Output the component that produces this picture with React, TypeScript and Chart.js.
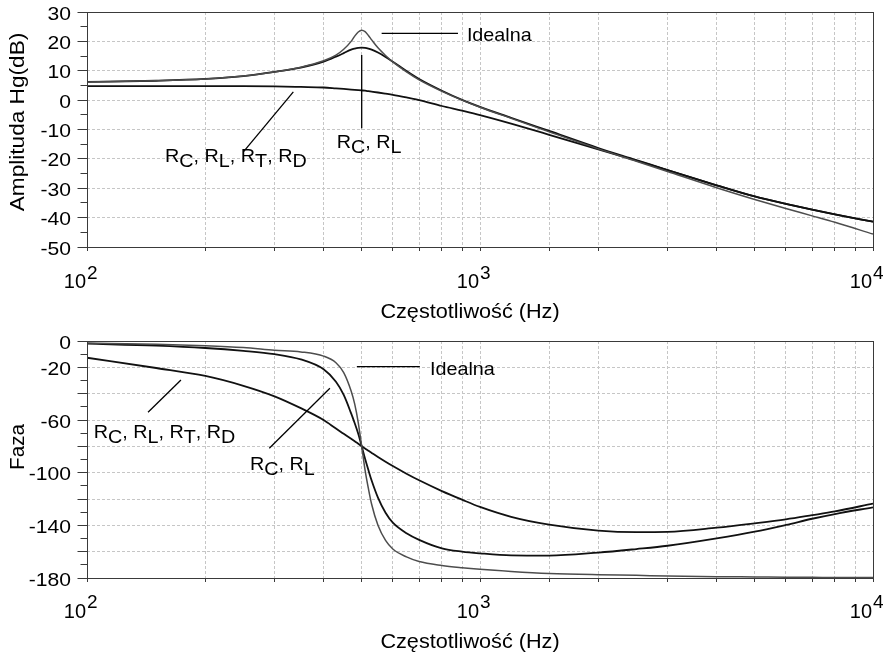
import React, { useEffect, useRef } from 'react';
import { Chart, registerables } from 'chart.js';

Chart.register(...registerables);

// ---------- data ----------
const FREQ = [100, 150, 200, 250, 300, 350, 400, 430, 450, 470, 480, 490, 500, 510, 520, 530, 550, 575, 600, 650, 700, 800, 900, 1000, 1200, 1500, 2000, 2500, 3000, 4000, 5000, 6000, 7000, 8000, 10000];

const AMP_IDEALNA = [6.2, 6.6, 7.2, 8.2, 9.6, 11.2, 13.4, 15.3, 17.3, 20.0, 21.8, 23.2, 23.8, 23.3, 22.0, 20.5, 17.8, 15.2, 13.0, 9.6, 6.9, 3.0, 0.0, -2.4, -6.2, -10.8, -16.6, -20.8, -24.3, -29.8, -33.8, -36.9, -39.4, -41.6, -45.6];
const AMP_RC_RL = [6.2, 6.6, 7.2, 8.2, 9.6, 11.1, 13.1, 14.8, 16.0, 17.2, 17.55, 17.8, 17.9, 17.8, 17.55, 17.2, 16.2, 14.7, 13.1, 9.9, 7.2, 3.2, 0.1, -2.3, -6.0, -10.5, -16.3, -20.4, -23.8, -29.0, -32.8, -35.3, -37.3, -38.9, -41.4];
const AMP_RC_RL_RT_RD = [4.8, 4.8, 4.8, 4.8, 4.7, 4.5, 4.3, 4.0, 3.8, 3.6, 3.5, 3.4, 3.3, 3.2, 3.05, 2.9, 2.6, 2.2, 1.8, 0.9, 0.0, -2.0, -3.6, -5.1, -8.0, -11.8, -16.8, -20.6, -23.8, -29.0, -32.8, -35.3, -37.3, -38.9, -41.4];

const PHASE_IDEALNA = [-1.5, -2.5, -3.6, -5.0, -7.0, -8.3, -11.5, -16.5, -24, -38, -48, -62, -80, -98, -112, -124, -140, -151.5, -158, -164, -167.5, -170.5, -172.2, -173.4, -175, -176.5, -177.5, -178, -178.5, -179, -179.2, -179.4, -179.5, -179.6, -179.7];
const PHASE_RC_RL = [-2.0, -3.5, -5.3, -7.5, -10, -14, -21.5, -31, -41, -55, -62.5, -70.5, -80, -89.5, -98, -106, -119, -130.5, -138, -146, -151, -157.5, -160, -161.3, -162.8, -163, -160.7, -158, -155.5, -149.9, -144.8, -139.7, -135, -131.4, -126.3];
const PHASE_RC_RL_RT_RD = [-12.7, -20.5, -26.5, -34, -42, -51, -60, -66.5, -70.5, -74.3, -76.2, -78, -80, -81.7, -83.4, -85, -88.1, -91.7, -95, -100.8, -105.8, -114, -120.5, -126, -133.5, -139.5, -144, -145.2, -145, -141.8, -138.5, -135.5, -132.3, -129.4, -123.5];

const SERIES_NAMES = ['Idealna', 'R_C, R_L', 'R_C, R_L, R_T, R_D'];
const X_DECADES = [2, 3, 4];
const AMP_TICK_LABELS = [30, 20, 10, 0, -10, -20, -30, -40, -50];
const PHASE_TICK_LABELS = [0, -20, -60, -100, -140, -180];
const X_TITLE = 'Częstotliwość (Hz)';
const AMP_TITLE = 'Amplituda Hg(dB)';
const PHASE_TITLE = 'Faza';

// annotation anchors in data units: [frequency, value]
const AMP_NOTES = [
  { label: SERIES_NAMES[0], from: [562, 22.7], to: [879, 22.7], at: [926, 20.2] },
  { label: SERIES_NAMES[1], from: [500, 15.4], to: [500, -9.6], at: [432, -16.4] },
  { label: SERIES_NAMES[2], from: [250, -17.6], to: [335, 2.8], at: [158, -21] },
];
const PHASE_NOTES = [
  { label: SERIES_NAMES[0], from: [486, -19.5], to: [703, -19.5], at: [746, -25.8] },
  { label: SERIES_NAMES[1], from: [291, -81.5], to: [415, -35.9], at: [260, -98] },
  { label: SERIES_NAMES[2], from: [143, -54.1], to: [173.4, -29.6], at: [104, -73.9] },
];

// ---------- styling ----------
const FONT = '"Liberation Sans", Arial, Helvetica, sans-serif';
const AXIS_COLOR = '#3a3a3a';
const GRID_COLOR = '#c6c6c6';
const SERIES_STYLE = [
  { color: '#4d4d4d', width: 1.5 },
  { color: '#111111', width: 1.8 },
  { color: '#111111', width: 1.8 },
];

type Note = { label: string; from: number[]; to: number[]; at: number[] };
type Panel = {
  height: number;
  padTop: number;
  xScaleH: number;
  yMin: number;
  yMax: number;
  gridStep: number;
  minorStep: number;
  yLabels: number[];
  yTitle: string;
  yTitleSx: number;
  yTitleOffset: number;
  xLabelBaseline: number;
  xTitleBaseline: number;
  series: number[][];
  notes: Note[];
};

function drawText(
  ctx: CanvasRenderingContext2D,
  text: string,
  x: number,
  y: number,
  size: number,
  align: CanvasTextAlign,
  sx: number,
  rotate = false
) {
  ctx.save();
  ctx.translate(x, y);
  if (rotate) ctx.rotate(-Math.PI / 2);
  ctx.scale(sx, 1);
  ctx.font = `${size}px ${FONT}`;
  ctx.textAlign = align;
  ctx.textBaseline = 'alphabetic';
  ctx.fillStyle = '#000';
  ctx.fillText(text, 0, 0);
  ctx.restore();
}

// text with "_X" subscripts, left aligned at x, baseline y
function drawRich(ctx: CanvasRenderingContext2D, text: string, x: number, y: number, size: number, sx: number) {
  ctx.save();
  ctx.translate(x, y);
  ctx.scale(sx, 1);
  ctx.font = `${size}px ${FONT}`;
  ctx.textAlign = 'left';
  ctx.textBaseline = 'alphabetic';
  ctx.fillStyle = '#000';
  let cx = 0;
  for (let i = 0; i < text.length; i++) {
    let ch = text[i];
    let dy = 0;
    if (ch === '_' && i + 1 < text.length) {
      i++;
      ch = text[i];
      dy = 5;
    }
    ctx.fillText(ch, cx, dy);
    cx += ctx.measureText(ch).width;
  }
  ctx.restore();
}

function makePlugin(p: Panel) {
  return {
    id: 'panelDecor',
    afterDraw(chart: any) {
      const ctx: CanvasRenderingContext2D = chart.ctx;
      const ca = chart.chartArea;
      const xs = chart.scales.x;
      const ys = chart.scales.y;
      const al = (v: number) => Math.round(v - 0.5) + 0.5;
      ctx.save();
      ctx.setLineDash([]);
      ctx.strokeStyle = AXIS_COLOR;
      ctx.lineWidth = 1;
      const L = al(ca.left), R = al(ca.right), T = al(ca.top), B = al(ca.bottom);
      ctx.strokeRect(L, T, R - L, B - T);

      // y tick marks
      for (let v = p.yMin; v <= p.yMax + 1e-9; v += p.minorStep) {
        const y = al(ys.getPixelForValue(v));
        const major = Math.abs(v % p.gridStep) < 1e-9;
        const len = major ? 10 : 7;
        ctx.beginPath();
        ctx.moveTo(L - len, y);
        ctx.lineTo(L, y);
        ctx.stroke();
      }
      // y labels
      p.yLabels.forEach((v) => {
        drawText(ctx, String(v), 71, ys.getPixelForValue(v) + 7.5, 19, 'right', 1.11);
      });
      // x labels 10^k
      X_DECADES.forEach((k) => {
        const x = xs.getPixelForValue(Math.pow(10, k));
        drawText(ctx, '10', x - 1, p.xLabelBaseline, 20, 'right', 1.0);
        drawText(ctx, String(k), x, p.xLabelBaseline - 9.5, 19, 'left', 1.0);
      });
      // titles
      drawText(ctx, X_TITLE, 470, p.xTitleBaseline, 19.5, 'center', 1.11);
      drawText(ctx, p.yTitle, 24, (ca.top + ca.bottom) / 2 + p.yTitleOffset, 19.5, 'center', p.yTitleSx, true);

      // annotations
      ctx.strokeStyle = '#000';
      ctx.lineWidth = 1.3;
      p.notes.forEach((n) => {
        ctx.beginPath();
        ctx.moveTo(xs.getPixelForValue(n.from[0]), ys.getPixelForValue(n.from[1]));
        ctx.lineTo(xs.getPixelForValue(n.to[0]), ys.getPixelForValue(n.to[1]));
        ctx.stroke();
        drawRich(ctx, n.label, xs.getPixelForValue(n.at[0]), ys.getPixelForValue(n.at[1]), 19, 1.04);
      });
      ctx.restore();
    },
  };
}

const PANELS: Panel[] = [
  {
    height: 327,
    padTop: 12,
    xScaleH: 80,
    yMin: -50,
    yMax: 30,
    gridStep: 10,
    minorStep: 5,
    yLabels: AMP_TICK_LABELS,
    yTitle: AMP_TITLE,
    yTitleSx: 1.16,
    yTitleOffset: -7.5,
    xLabelBaseline: 288,
    xTitleBaseline: 318,
    series: [AMP_IDEALNA, AMP_RC_RL, AMP_RC_RL_RT_RD],
    notes: AMP_NOTES,
  },
  {
    height: 327,
    padTop: 14,
    xScaleH: 76,
    yMin: -180,
    yMax: 0,
    gridStep: 20,
    minorStep: 10,
    yLabels: PHASE_TICK_LABELS,
    yTitle: PHASE_TITLE,
    yTitleSx: 1.06,
    yTitleOffset: -12.5,
    xLabelBaseline: 290.5,
    xTitleBaseline: 321,
    series: [PHASE_IDEALNA, PHASE_RC_RL, PHASE_RC_RL_RT_RD],
    notes: PHASE_NOTES,
  },
];

function PanelChart({ panel }: { panel: Panel }) {
  const ref = useRef<HTMLCanvasElement | null>(null);
  useEffect(() => {
    if (!ref.current) return;
    const chart = new Chart(ref.current, {
      type: 'line',
      data: {
        datasets: panel.series.map((vals, si) => ({
          label: SERIES_NAMES[si],
          data: FREQ.map((f, i) => ({ x: f, y: vals[i] })),
          borderColor: SERIES_STYLE[si].color,
          borderWidth: SERIES_STYLE[si].width,
          pointRadius: 0,
          fill: false,
          cubicInterpolationMode: 'monotone' as const,
        })),
      },
      options: {
        animation: false,
        responsive: false,
        devicePixelRatio: 1,
        events: [],
        layout: { padding: { top: panel.padTop, right: 10, left: 0, bottom: 0 } },
        plugins: { legend: { display: false }, tooltip: { enabled: false }, title: { display: false } },
        scales: {
          x: {
            type: 'logarithmic',
            min: 100,
            max: 10000,
            position: 'bottom',
            ticks: { display: false },
            grid: { color: GRID_COLOR, lineWidth: 1, drawTicks: true, tickLength: 4, tickColor: AXIS_COLOR, tickWidth: 1 },
            border: { display: false, dash: [3, 2] },
            afterFit: (s: any) => {
              s.height = panel.xScaleH;
            },
          },
          y: {
            type: 'linear',
            min: panel.yMin,
            max: panel.yMax,
            ticks: { display: false, stepSize: panel.gridStep },
            grid: { color: GRID_COLOR, lineWidth: 1, drawTicks: false },
            border: { display: false, dash: [3, 2] },
            afterFit: (s: any) => {
              s.width = 87;
            },
          },
        },
      } as any,
      plugins: [makePlugin(panel)],
    });
    return () => chart.destroy();
  }, [panel]);
  return <canvas ref={ref} width={883} height={panel.height} style={{ display: 'block', width: 883, height: panel.height }} />;
}

export default function App() {
  return (
    <div style={{ position: 'absolute', left: 0, top: 0, width: 883, height: 654, background: '#fff' }}>
      {PANELS.map((p, i) => (
        <PanelChart key={i} panel={p} />
      ))}
    </div>
  );
}
